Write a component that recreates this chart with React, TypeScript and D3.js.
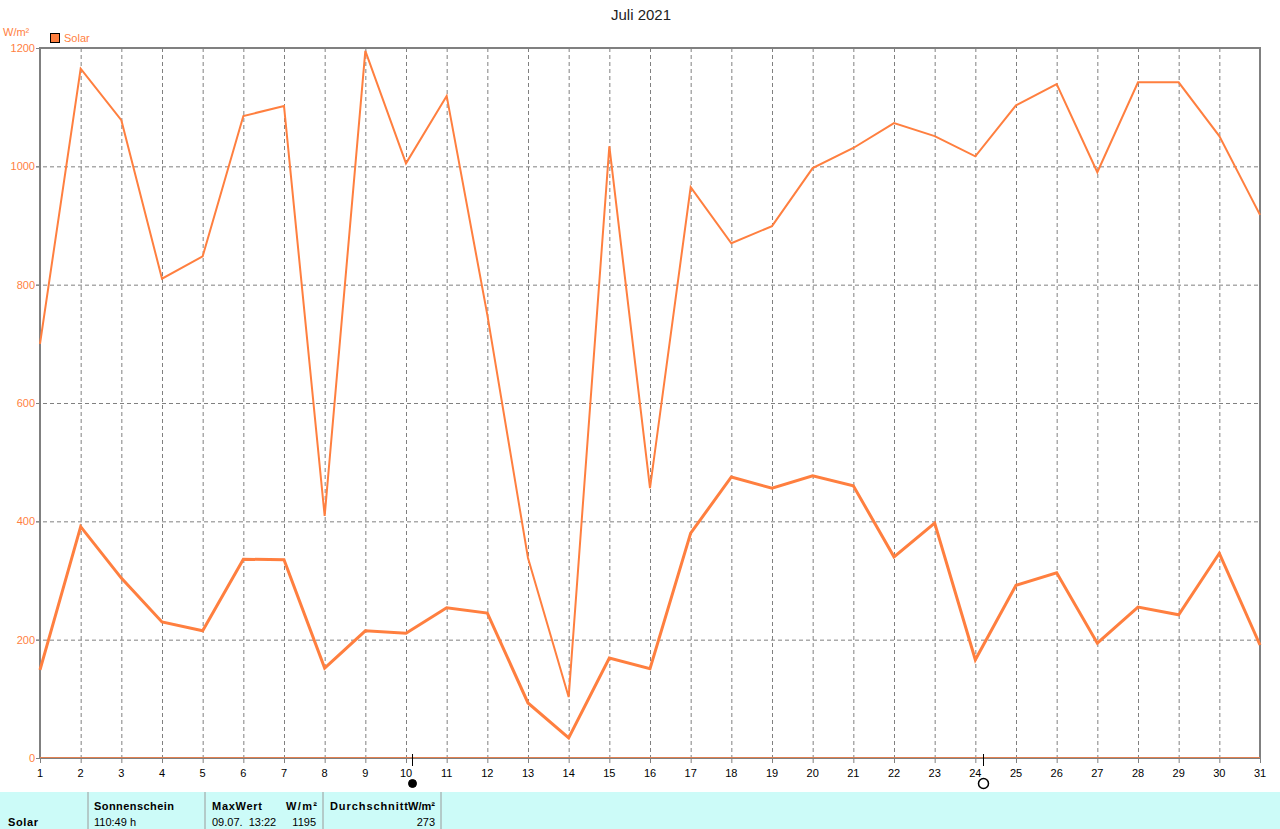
import React, { useEffect, useRef } from 'react';
import * as d3 from 'd3';

const days = d3.range(1, 32);
const maxValues = [700, 1165, 1078, 810, 848, 1085, 1102, 409, 1195, 1005, 1119, 749, 338, 103, 1034, 456, 965, 870, 899, 997, 1031, 1073, 1051, 1017, 1103, 1139, 990, 1142, 1142, 1051, 918];
const avgValues = [149, 391, 304, 230, 215, 336, 335, 152, 215, 211, 254, 245, 93, 34, 169, 151, 380, 475, 456, 477, 460, 340, 397, 166, 292, 313, 194, 255, 242, 346, 191];
const yTicks = [0, 200, 400, 600, 800, 1000, 1200];
const moonDays = [{ day: 10.15, full: true }, { day: 24.19, full: false }];

const ORANGE = '#ff7f3f';
const GRID = '#808080';
const FONT = '"Liberation Sans", Arial, sans-serif';

const App: React.FC = () => {
  const svgRef = useRef<SVGSVGElement>(null);

  useEffect(() => {
    if (!svgRef.current) return;
    const svg = d3.select(svgRef.current);
    svg.selectAll('*').remove();

    const x = d3.scaleLinear().domain([1, 31]).range([40, 1260]);
    const y = d3.scaleLinear().domain([0, 1200]).range([758, 48]);

    svg.append('rect').attr('width', 1280).attr('height', 829).attr('fill', '#fff');

    svg.append('text').attr('x', 641).attr('y', 20).attr('text-anchor', 'middle')
      .attr('font-size', 15).attr('fill', '#222').text('Juli 2021');

    // Grid
    days.slice(1, -1).forEach(d => {
      svg.append('line').attr('x1', x(d) + 0.5).attr('x2', x(d) + 0.5).attr('y1', 48).attr('y2', 758)
        .attr('stroke', GRID).attr('stroke-dasharray', '4 3');
    });
    yTicks.slice(1, -1).forEach(v => {
      svg.append('line').attr('x1', 36).attr('x2', 1260).attr('y1', y(v) + 0.5).attr('y2', y(v) + 0.5)
        .attr('stroke', GRID).attr('stroke-dasharray', '4 3');
    });

    // Frame
    svg.append('path').attr('d', 'M40,758V48H1260V758').attr('fill', 'none').attr('stroke', GRID).attr('stroke-width', 2);
    svg.append('line').attr('x1', 38).attr('x2', 1261).attr('y1', 758.5).attr('y2', 758.5).attr('stroke', GRID);
    svg.append('line').attr('x1', 40).attr('x2', 1260).attr('y1', 757.5).attr('y2', 757.5).attr('stroke', '#e08050');

    // Axis labels
    yTicks.forEach(v => {
      svg.append('text').attr('x', 35).attr('y', y(v) + 4).attr('text-anchor', 'end')
        .attr('font-size', 11).attr('fill', ORANGE).text(v);
      svg.append('line').attr('x1', 36).attr('x2', 40).attr('y1', y(v) + 0.5).attr('y2', y(v) + 0.5).attr('stroke', GRID);
    });
    days.forEach(d => {
      svg.append('line').attr('x1', x(d) + 0.5).attr('x2', x(d) + 0.5).attr('y1', 758).attr('y2', 763).attr('stroke', GRID);
      svg.append('text').attr('x', x(d)).attr('y', 777).attr('text-anchor', 'middle')
        .attr('font-size', 11).attr('fill', '#000').text(d);
    });

    // Legend
    svg.append('text').attr('x', 3).attr('y', 36).attr('font-size', 11).attr('fill', ORANGE).text('W/m²');
    svg.append('rect').attr('x', 50.5).attr('y', 33.5).attr('width', 9).attr('height', 9)
      .attr('fill', ORANGE).attr('stroke', '#000');
    svg.append('text').attr('x', 64).attr('y', 42).attr('font-size', 11).attr('fill', ORANGE).text('Solar');

    // Series
    const line = d3.line<number>().x((_, i) => x(days[i])).y(v => y(v));
    svg.append('path').attr('d', line(maxValues)).attr('fill', 'none').attr('stroke', ORANGE).attr('stroke-width', 2);
    svg.append('path').attr('d', line(avgValues)).attr('fill', 'none').attr('stroke', ORANGE).attr('stroke-width', 3);

    // Moon phases
    moonDays.forEach(m => {
      const mx = Math.round(x(m.day));
      svg.append('line').attr('x1', mx + 0.5).attr('x2', mx + 0.5).attr('y1', 754).attr('y2', 766).attr('stroke', '#000');
      svg.append('circle').attr('cx', mx + 0.5).attr('cy', 783.5).attr('r', m.full ? 4 : 5)
        .attr('fill', m.full ? '#000' : '#fff').attr('stroke', '#000').attr('stroke-width', m.full ? 1 : 1.5);
    });

    // Summary table
    svg.append('rect').attr('x', 0).attr('y', 792).attr('width', 1280).attr('height', 37).attr('fill', '#ccfbf8');
    [88, 205, 323, 441].forEach(sx => {
      svg.append('line').attr('x1', sx).attr('x2', sx).attr('y1', 792).attr('y2', 829).attr('stroke', '#9a9a9a');
    });
    const cell = (tx: number, ty: number, s: string, bold = false, anchor = 'start', len = 0) => {
      const t = svg.append('text').attr('x', tx).attr('y', ty).attr('font-size', 11)
        .attr('font-weight', bold ? 700 : 400).attr('text-anchor', anchor).attr('fill', '#000')
        .style('white-space', 'pre').text(s);
      if (len) t.attr('textLength', len);
    };
    cell(8, 826, 'Solar', true, 'start', 30);
    cell(94, 810, 'Sonnenschein', true, 'start', 80);
    cell(94, 826, '110:49 h');
    cell(212, 810, 'MaxWert', true, 'start', 50);
    cell(317, 810, 'W/m²', true, 'end', 31);
    cell(212, 826, '09.07.  13:22');
    cell(316, 826, '1195', false, 'end');
    cell(330, 810, 'Durchschnitt', true, 'start', 78);
    cell(435, 810, 'W/m²', true, 'end', 27);
    cell(435, 826, '273', false, 'end');
  }, []);

  return (
    <svg ref={svgRef} width={1280} height={829} fontFamily={FONT}
      style={{ position: 'absolute', left: 0, top: 0, display: 'block' }} />
  );
};

export default App;
